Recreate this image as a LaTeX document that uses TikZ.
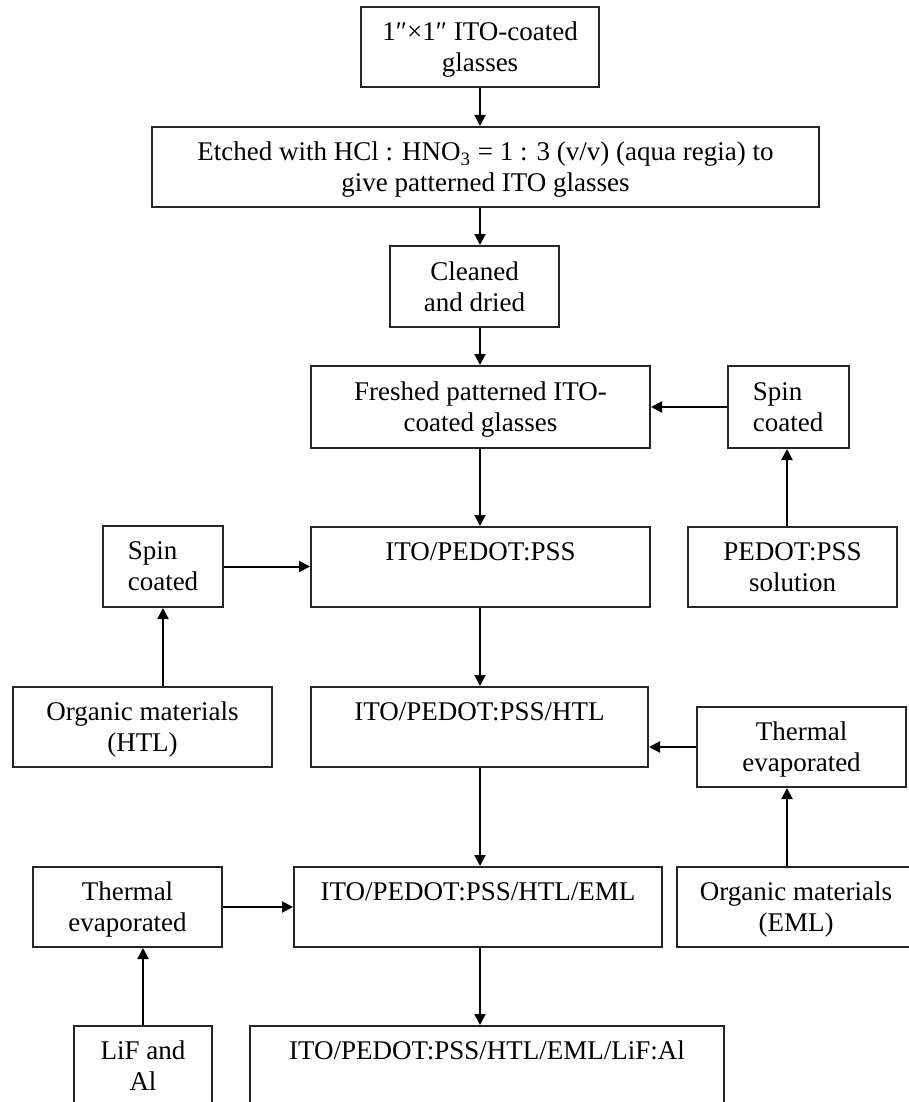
\documentclass[tikz,border=0pt]{standalone}
\usepackage{fontspec}
\setmainfont{Liberation Serif}
\usetikzlibrary{arrows.meta}
\begin{document}
\begin{tikzpicture}[x=0.5pt,y=-0.5pt,
  box/.style={draw=black!85,line width=1pt,inner sep=0pt,text depth=-2.5pt,
    font=\fontsize{13.5}{15.5}\selectfont,align=center,minimum height=40pt},
  lbox/.style={box,align=left},
  arr/.style={draw=black,line width=1pt,-{Triangle[length=5.5pt,width=5.5pt]}}]
\clip (0,0) rectangle (909,1102);
\fill[white] (0,0) rectangle (909,1102);
\node[box,minimum width=119pt] (b1) at (480,47) {1″×1″ ITO-coated\\glasses};
\node[box,minimum width=333.5pt] (b2) at (485.5,167) {Etched with HCl : HNO\textsubscript{3} = 1 : 3 (v/v) (aqua regia) to\\give patterned ITO glasses};
\node[box,minimum width=84.5pt,minimum height=40.5pt] (b3) at (474.5,286.5) {Cleaned\\and dried};
\node[box,minimum width=169.5pt,minimum height=41pt] (b4) at (480.5,407) {Freshed patterned ITO-\\coated glasses};
\node[lbox,minimum width=60.5pt,minimum height=41pt] (sc1) at (788,407) {Spin\\coated};
\node[box,minimum width=169.5pt] (b5) at (480.5,567) {ITO/PEDOT:PSS\\[0pt]\mbox{}};
\node[box,minimum width=104.5pt] (ps) at (792.5,567) {PEDOT:PSS\\solution};
\node[lbox,minimum width=60pt,minimum height=40.5pt] (sc2) at (163,566.5) {Spin\\coated};
\node[box,minimum width=129.5pt] (om1) at (142.5,727) {Organic materials\\(HTL)};
\node[box,minimum width=168.5pt] (b6) at (479.5,727) {ITO/PEDOT:PSS/HTL\\[0pt]\mbox{}};
\node[box,minimum width=104.5pt] (te1) at (801.5,747) {Thermal\\evaporated};
\node[box,minimum width=119pt] (om2) at (796,907) {Organic materials\\(EML)};
\node[box,minimum width=184pt] (b7) at (478,907) {ITO/PEDOT:PSS/HTL/EML\\[0pt]\mbox{}};
\node[box,minimum width=94.5pt] (te2) at (127.5,907) {Thermal\\evaporated};
\node[box,minimum width=69pt] (lif) at (143,1066) {LiF and\\Al};
\node[box,minimum width=237pt] (b8) at (487,1066) {ITO/PEDOT:PSS/HTL/EML/LiF:Al\\[0pt]\mbox{}};
\coordinate (mx) at (480,0);
\coordinate (rx) at (787,0);
% main chain
\draw[arr] (b1.south -| mx) -- (b2.north -| mx);
\draw[arr] (b2.south -| mx) -- (b3.north -| mx);
\draw[arr] (b3.south -| mx) -- (b4.north -| mx);
\draw[arr] (b4.south -| mx) -- (b5.north -| mx);
\draw[arr] (b5.south -| mx) -- (b6.north -| mx);
\draw[arr] (b6.south -| mx) -- (b7.north -| mx);
\draw[arr] (b7.south -| mx) -- (b8.north -| mx);
% side inputs
\draw[arr] (sc1.west) -- (sc1.west -| b4.east);
\draw[arr] (ps.north -| rx) -- (sc1.south -| rx);
\draw[arr] (sc2.east) -- (sc2.east -| b5.west);
\draw[arr] (om1.north -| sc2) -- (sc2.south);
\draw[arr] (te1.west) -- (te1.west -| b6.east);
\draw[arr] (om2.north -| rx) -- (te1.south -| rx);
\draw[arr] (te2.east) -- (te2.east -| b7.west);
\draw[arr] (lif.north) -- (lif.north |- te2.south);
\end{tikzpicture}
\end{document}
